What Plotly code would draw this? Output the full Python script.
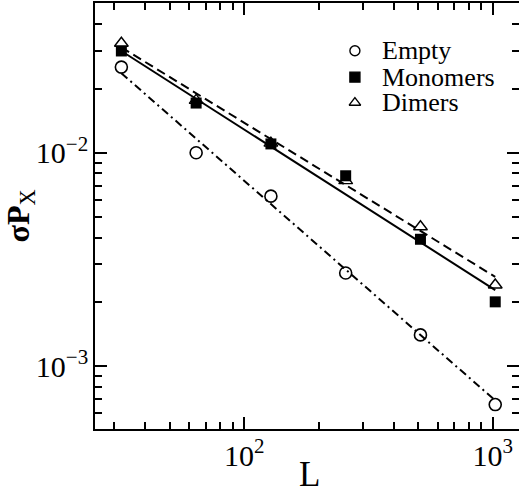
import plotly.graph_objects as go

# ---- data ----
L = [32, 64, 128, 256, 512, 1024]
empty = [0.0252, 0.0100, 0.00626, 0.00273, 0.00140, 0.00066]
monomers = [0.0300, 0.0171, 0.0110, 0.0078, 0.00393, 0.00200]
dimers = [0.0326, 0.0176, 0.0111, 0.0074, 0.0045, 0.0024]

# power-law fit lines (end points)
fit_L = [32, 1024]
fit_empty = [0.0236, 0.00069]
fit_monomers = [0.0300, 0.00227]
fit_dimers = [0.0312, 0.00262]

series_names = ["Empty", "Monomers", "Dimers"]
x_title = "L"
y_title = "<b>σP</b><sub>X</sub>"

W, H = 519, 495
ML, MR, MT, MB = 95, 0, 3, 66
FONT = "Liberation Serif"

fig = go.Figure()

# fit lines
fig.add_trace(go.Scatter(x=fit_L, y=fit_empty, mode="lines", showlegend=False,
                         line=dict(color="black", width=2, dash="8px,4px,2px,4px")))
fig.add_trace(go.Scatter(x=fit_L, y=fit_monomers, mode="lines", showlegend=False,
                         line=dict(color="black", width=2)))
fig.add_trace(go.Scatter(x=fit_L, y=fit_dimers, mode="lines", showlegend=False,
                         line=dict(color="black", width=2, dash="9px,5px")))

# data points
fig.add_trace(go.Scatter(x=L, y=empty, mode="markers", name=series_names[0], showlegend=False,
                         marker=dict(symbol="circle-open", size=12, color="black",
                                     line=dict(width=1.6, color="black"))))
fig.add_trace(go.Scatter(x=L, y=monomers, mode="markers", name=series_names[1], showlegend=False,
                         marker=dict(symbol="square", size=11, color="black",
                                     line=dict(width=0, color="black"))))
fig.add_trace(go.Scatter(x=L, y=dimers, mode="markers", name=series_names[2], showlegend=False,
                         marker=dict(symbol="triangle-up-open", size=12, color="black",
                                     line=dict(width=1.4, color="black"))))

# legend (drawn on an overlay axis in plot-fraction units)
leg_x = 0.613
leg_y = [0.888, 0.826, 0.766]
leg_text_x = 0.672
leg_symbols = ["circle-open", "square", "triangle-up-open"]
leg_sizes = [10, 10, 10]
for name, sym, sz, yy in zip(series_names, leg_symbols, leg_sizes, leg_y):
    fig.add_trace(go.Scatter(x=[leg_x], y=[yy], xaxis="x2", yaxis="y2", mode="markers",
                             showlegend=False, hoverinfo="skip",
                             marker=dict(symbol=sym, size=sz, color="black",
                                         line=dict(width=1.4, color="black"))))
    fig.add_annotation(x=leg_text_x, y=yy, xref="x2", yref="y2", text=name, showarrow=False,
                       xanchor="left", yanchor="middle",
                       font=dict(family=FONT, size=26, color="black"))

axis_common = dict(
    type="log", showgrid=False, zeroline=False, showline=True, linecolor="black",
    linewidth=2, ticks="inside", ticklen=12, tickwidth=2, tickcolor="black",
    mirror="allticks", dtick=1, exponentformat="power", automargin=False,
    tickfont=dict(family=FONT, size=24, color="black"),
    minor=dict(ticks="inside", ticklen=7, tickwidth=2, tickcolor="black",
               dtick="D1", showgrid=False),
)

fig.update_layout(
    width=W, height=H,
    margin=dict(l=ML, r=MR, t=MT, b=MB, autoexpand=False),
    paper_bgcolor="white", plot_bgcolor="white",
    showlegend=False,
    xaxis=dict(range=[1.399, 3.106], **axis_common),
    yaxis=dict(range=[-3.295, -1.298], **axis_common),
    xaxis2=dict(overlaying="x", range=[0, 1], visible=False),
    yaxis2=dict(overlaying="y", range=[0, 1], visible=False),
)

# axis titles
fig.add_annotation(x=0.505, y=-0.106, xref="paper", yref="paper", text=x_title, showarrow=False,
                   xanchor="center", yanchor="middle",
                   font=dict(family=FONT, size=35, color="black"))
fig.add_annotation(x=-0.178, y=0.5, xref="paper", yref="paper", text=y_title, showarrow=False,
                   textangle=-90, xanchor="center", yanchor="middle",
                   font=dict(family=FONT, size=32, color="black"))

fig.write_html("out.html", config={"displayModeBar": False},
               post_script="document.body.style.margin='0';document.body.style.overflow='hidden';")
